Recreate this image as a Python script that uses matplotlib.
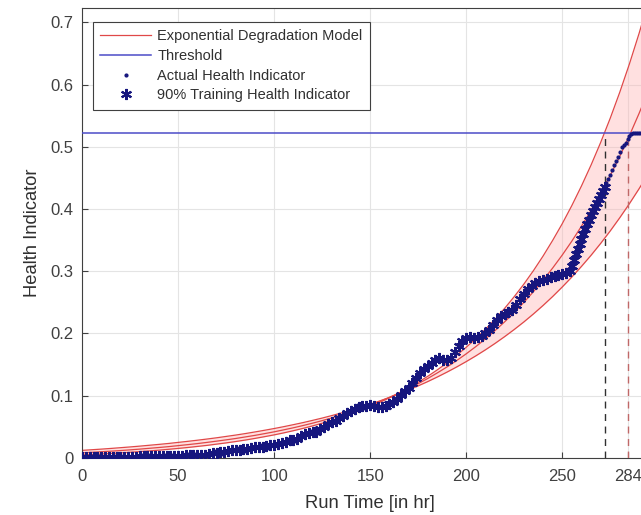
import numpy as np
import matplotlib
matplotlib.use("Agg")
import matplotlib.pyplot as plt

plt.rcParams['font.family'] = ['Liberation Sans', 'DejaVu Sans']

# model curves, sampled every 5 hr
model_time = np.arange(0, 305, 5)
model_mean = [0.0080, 0.0088, 0.0098, 0.0107, 0.0117, 0.0128, 0.0140, 0.0153, 0.0166, 0.0180,
              0.0196, 0.0212, 0.0229, 0.0248, 0.0268, 0.0289, 0.0311, 0.0336, 0.0361, 0.0389,
              0.0418, 0.0450, 0.0483, 0.0519, 0.0557, 0.0598, 0.0641, 0.0688, 0.0737, 0.0790,
              0.0847, 0.0907, 0.0972, 0.1041, 0.1114, 0.1192, 0.1276, 0.1366, 0.1461, 0.1563,
              0.1672, 0.1788, 0.1912, 0.2045, 0.2186, 0.2337, 0.2498, 0.2671, 0.2855, 0.3051,
              0.3260, 0.3484, 0.3723, 0.3978, 0.4250, 0.4541, 0.4851, 0.5183, 0.5537, 0.5915, 0.6319]
model_steep = [0.0046, 0.0054, 0.0061, 0.0070, 0.0079, 0.0089, 0.0100, 0.0111, 0.0123, 0.0137,
               0.0151, 0.0166, 0.0183, 0.0200, 0.0220, 0.0240, 0.0262, 0.0286, 0.0312, 0.0340,
               0.0369, 0.0401, 0.0436, 0.0473, 0.0513, 0.0556, 0.0602, 0.0652, 0.0706, 0.0763,
               0.0825, 0.0892, 0.0964, 0.1042, 0.1125, 0.1215, 0.1311, 0.1415, 0.1527, 0.1648,
               0.1777, 0.1916, 0.2067, 0.2228, 0.2403, 0.2591, 0.2792, 0.3009, 0.3243, 0.3495,
               0.3764, 0.4056, 0.4370, 0.4707, 0.5070, 0.5461, 0.5882, 0.6335, 0.6823, 0.7348, 0.7913]
model_flat = [0.0120, 0.0130, 0.0140, 0.0151, 0.0163, 0.0175, 0.0188, 0.0202, 0.0216, 0.0231,
              0.0248, 0.0265, 0.0283, 0.0302, 0.0322, 0.0344, 0.0366, 0.0390, 0.0416, 0.0443,
              0.0471, 0.0501, 0.0533, 0.0566, 0.0602, 0.0639, 0.0679, 0.0721, 0.0765, 0.0812,
              0.0862, 0.0915, 0.0970, 0.1029, 0.1091, 0.1157, 0.1226, 0.1300, 0.1378, 0.1460,
              0.1547, 0.1639, 0.1736, 0.1839, 0.1948, 0.2063, 0.2184, 0.2313, 0.2449, 0.2593,
              0.2746, 0.2907, 0.3077, 0.3256, 0.3447, 0.3648, 0.3862, 0.4087, 0.4326, 0.4578, 0.4844]

# training health indicator (every 2 hr, then every hr on the steep end)
train_time = np.concatenate([np.arange(0, 254, 2), np.arange(254, 273, 1)])
train_hi = [0.002, 0.002, 0.002, 0.002, 0.002, 0.002, 0.002, 0.002, 0.002, 0.002,
            0.002, 0.002, 0.002, 0.002, 0.002, 0.003, 0.003, 0.003, 0.003, 0.003,
            0.003, 0.003, 0.003, 0.003, 0.003, 0.003, 0.003, 0.004, 0.004, 0.004,
            0.004, 0.005, 0.005, 0.006, 0.007, 0.008, 0.009, 0.010, 0.011, 0.012,
            0.013, 0.013, 0.014, 0.015, 0.016, 0.017, 0.017, 0.018, 0.019, 0.020,
            0.021, 0.022, 0.024, 0.026, 0.028, 0.029, 0.031, 0.035, 0.038, 0.040,
            0.041, 0.042, 0.046, 0.050, 0.054, 0.057, 0.060, 0.064, 0.068, 0.072,
            0.075, 0.078, 0.081, 0.083, 0.084, 0.085, 0.084, 0.082, 0.081, 0.083,
            0.086, 0.090, 0.095, 0.101, 0.107, 0.113, 0.121, 0.128, 0.136, 0.142,
            0.148, 0.153, 0.158, 0.160, 0.158, 0.157, 0.161, 0.170, 0.180, 0.187,
            0.192, 0.194, 0.193, 0.194, 0.196, 0.201, 0.206, 0.214, 0.222, 0.228,
            0.232, 0.234, 0.237, 0.245, 0.255, 0.264, 0.272, 0.277, 0.281, 0.284,
            0.286, 0.288, 0.290, 0.292, 0.294, 0.296, 0.297,
            0.300, 0.308, 0.318, 0.327, 0.336, 0.344, 0.352, 0.360, 0.368, 0.376,
            0.383, 0.390, 0.396, 0.403, 0.409, 0.416, 0.422, 0.429, 0.436]

# actual health indicator after the training part
post_time = np.arange(273, 292, 1)
post_hi = [0.442, 0.448, 0.455, 0.463, 0.470, 0.477, 0.484, 0.492, 0.500, 0.503,
           0.506, 0.512, 0.518, 0.521, 0.522, 0.522, 0.522, 0.522, 0.522]

threshold = 0.522
t_lower = 272   # upper bound hits threshold
t_pred = 284    # mean model hits threshold

xticks = [0, 50, 100, 150, 200, 250, 284]
yticks = [0, 0.1, 0.2, 0.3, 0.4, 0.5, 0.6, 0.7]

fig = plt.figure(figsize=(6.41, 5.15), dpi=100)
ax = fig.add_axes([0.128, 0.111, 0.899, 0.874])

ax.fill_between(model_time, model_steep, model_flat, color='#ffb0b0', alpha=0.38, lw=0, zorder=1)
model_col = '#e04848'
ax.plot(model_time, model_mean, color=model_col, lw=0.9, zorder=2, label='Exponential Degradation Model')
ax.plot(model_time, model_steep, color=model_col, lw=0.9, zorder=2)
ax.plot(model_time, model_flat, color=model_col, lw=0.9, zorder=2)

ax.axhline(threshold, color='#4b4bc8', lw=1.1, zorder=3, label='Threshold')

hi_col = '#16167e'
act_time = np.concatenate([train_time, post_time])
act_hi = np.concatenate([train_hi, post_hi])
ax.plot(act_time, act_hi, ls='none', marker='.', ms=4, color=hi_col, zorder=4,
        label='Actual Health Indicator')
ax.plot(train_time, train_hi, ls='none', marker=(6, 2, 0), ms=8, mew=1.5, color=hi_col, zorder=5,
        label='90% Training Health Indicator')

ax.plot([t_lower, t_lower], [0, threshold], color='#303030', lw=1, ls=(0, (5, 4)), zorder=3)
ax.plot([t_pred, t_pred], [0, threshold], color='#c06868', lw=1, ls=(0, (5, 4)), zorder=3)

ax.set_xlim(0, 300)
ax.set_ylim(0, 0.7235)
ax.set_xticks(xticks)
ax.set_xticklabels([str(v) for v in xticks])
ax.set_yticks(yticks)
ax.set_yticklabels(['0', '0.1', '0.2', '0.3', '0.4', '0.5', '0.6', '0.7'])
ax.grid(True, color='#e4e4e4', lw=0.8, zorder=0)
ax.set_axisbelow(True)
ax.tick_params(direction='in', length=4, colors='#404040', labelsize=12, width=0.8)
ax.tick_params(axis='x', pad=8)
ax.tick_params(axis='y', pad=6)
for s in ax.spines.values():
    s.set_color('#404040')
    s.set_linewidth(0.8)

ax.set_xlabel('Run Time [in hr]', fontsize=13.2, color='#303030', labelpad=8)
ax.set_ylabel('Health Indicator', fontsize=13.2, color='#303030', labelpad=7)

leg = ax.legend(loc='upper left', bbox_to_anchor=(0.019, 0.969), borderaxespad=0,
                fancybox=False, edgecolor='#404040', framealpha=1, fontsize=10.5,
                handlelength=3.5, handletextpad=0.4, labelspacing=0.4, borderpad=0.5)
leg.get_frame().set_linewidth(0.8)
for t in leg.get_texts():
    t.set_color('#303030')

fig.savefig('out.png', dpi=100)
